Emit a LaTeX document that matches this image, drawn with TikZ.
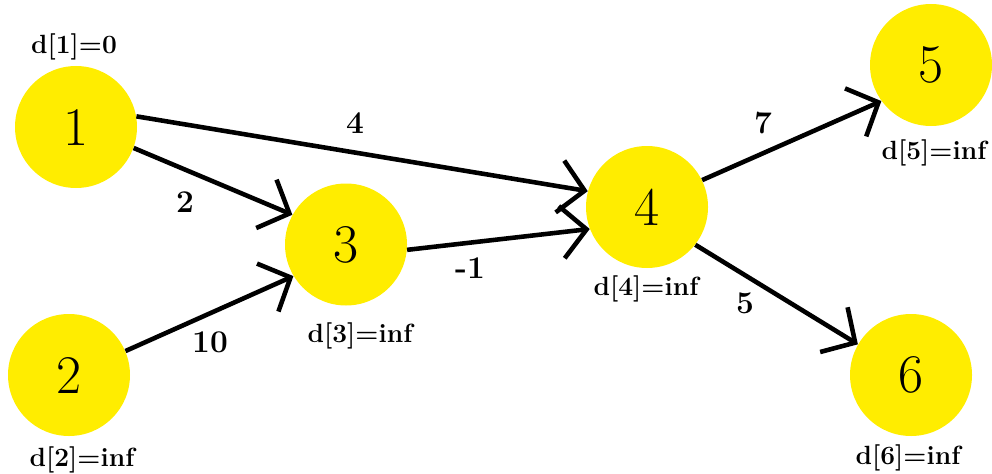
\documentclass[tikz,border=0pt]{standalone}
\usetikzlibrary{arrows.meta}

\definecolor{vertexyellow}{RGB}{255,237,0}

\begin{document}
\begin{tikzpicture}[
    vertex/.style={circle, fill=vertexyellow, minimum size=2.44cm, inner sep=0pt, font=\fontsize{31}{34}\selectfont},
    dist/.style={font=\fontsize{15}{17}\selectfont\bfseries},
    weight/.style={font=\fontsize{18}{20}\selectfont\bfseries},
    edge/.style={line width=2.6pt, -{Straight Barb[length=0.5cm, width=1.05cm]}}]
    \useasboundingbox (0,0) rectangle (19.84,9.46);

    % Draw the vertices
    \node[vertex] (v1) at (1.52,6.92) {1};
    \node[vertex] (v2) at (1.38,1.96) {2};
    \node[vertex] (v3) at (6.92,4.57) {3};
    \node[vertex] (v4) at (12.94,5.32) {4};
    \node[vertex] (v5) at (18.62,8.16) {5};
    \node[vertex] (v6) at (18.22,1.96) {6};

    % Label the distances
    \node[dist] (d1) at (1.48,8.52) {d[1]=0};
    \node[dist] (d2) at (1.64,0.26) {d[2]=inf};
    \node[dist] (d3) at (7.20,2.74) {d[3]=inf};
    \node[dist] (d4) at (12.92,3.68) {d[4]=inf};
    \node[dist] (d5) at (18.68,6.40) {d[5]=inf};
    \node[dist] (d6) at (18.16,0.30) {d[6]=inf};

    % Draw the edges
    \draw[edge] (v1.10) -- (v4.165);
    \draw[edge] (v1.-20) -- (v3.151);
    \draw[edge] (v2.23) -- (v3.211);
    \draw[edge] (v3.-5) -- (v4.201);
    \draw[edge] (v4.26) -- (v5.216);
    \draw[edge] (v4.-38) -- (v6.150);

    % Label the edge weights
    \node[weight] (w14) at (7.10,7.00) {4};
    \node[weight] (w13) at (3.70,5.42) {2};
    \node[weight] (w23) at (4.20,2.62) {10};
    \node[weight] (w34) at (9.40,4.10) {-1};
    \node[weight] (w45) at (15.26,7.00) {7};
    \node[weight] (w46) at (14.90,3.40) {5};
\end{tikzpicture}
\end{document}
